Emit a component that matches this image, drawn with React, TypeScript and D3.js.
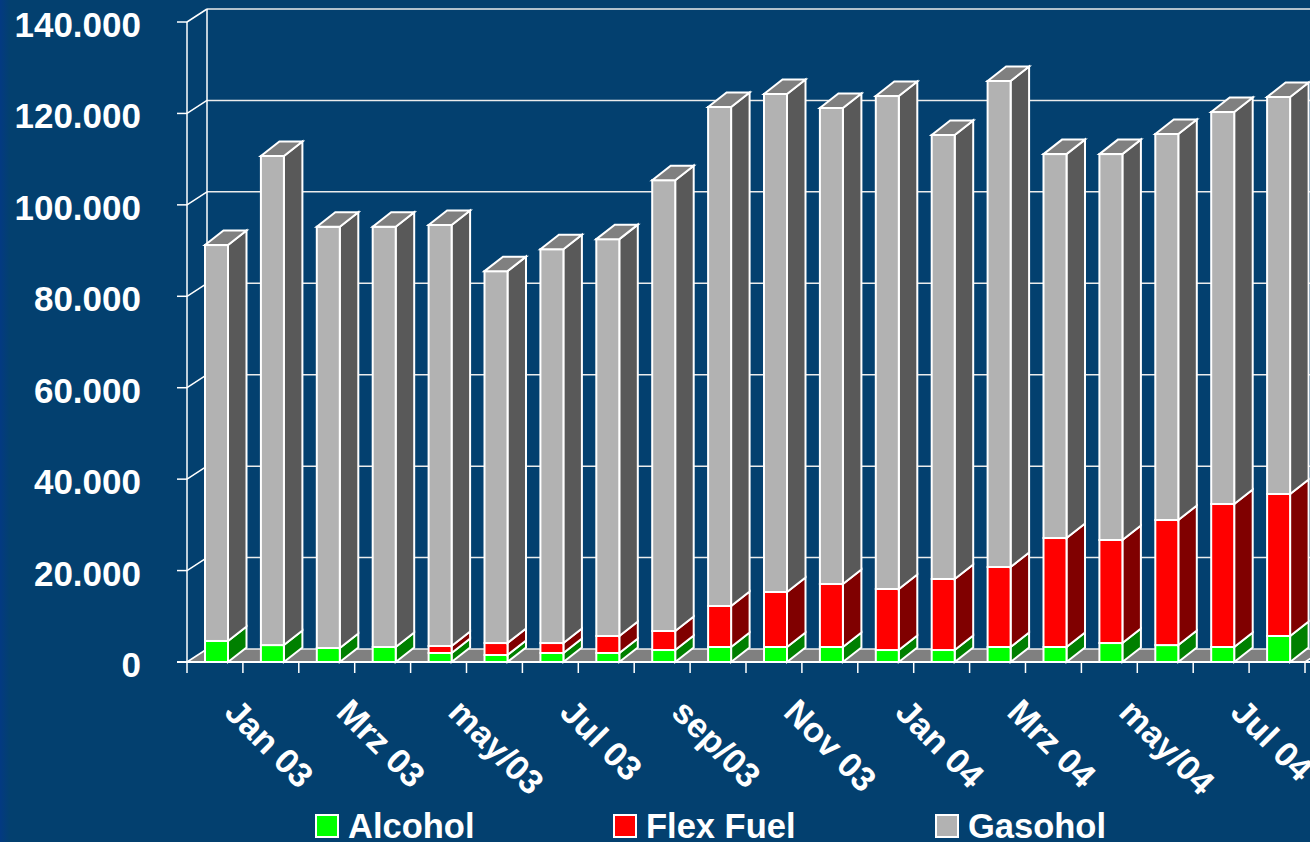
import * as d3 from "d3"
import { useEffect, useRef } from "react"

const categories = [
  "Jan 03", "Fev 03", "Mrz 03", "Abr 03", "may/03", "Jun 03", "Jul 03", "Ago 03", "sep/03", "Out 03",
  "Nov 03", "Dez 03", "Jan 04", "Fev 04", "Mrz 04", "Abr 04", "may/04", "Jun 04", "Jul 04", "Ago 04"
]
const alcohol = [4600, 3700, 3060, 3280, 1970, 1530, 1970, 1970, 2620, 3280, 3280, 3280, 2620, 2620, 3280, 3280, 4150, 3700, 3280, 5690]
const flexFuel = [0, 0, 0, 0, 1530, 2620, 2180, 3720, 4160, 8970, 12030, 13780, 13350, 15540, 17500, 23840, 22540, 27360, 31280, 31060]
const gasohol = [86600, 107000, 92140, 91920, 92100, 81350, 86150, 86810, 98620, 109150, 108940, 104140, 107830, 97140, 106320, 83980, 84410, 84440, 85740, 86850]
const yTicks = [0, 20000, 40000, 60000, 80000, 100000, 120000, 140000]
const seriesNames = ["Alcohol", "Flex Fuel", "Gasohol"]
const frontColors = ["#00ff00", "#ff0000", "#b2b2b2"]
const sideColors = ["#008000", "#800000", "#595959"]

const WIDTH = 1310
const HEIGHT = 842
const BG = "#03406f"
const FONT = "'Liberation Sans', Arial, sans-serif"

const App = () => {
  const svgRef = useRef<SVGSVGElement | null>(null)

  useEffect(() => {
    if (!svgRef.current) return

    // Clear previous chart
    const svg = d3.select(svgRef.current)
    svg.selectAll("*").remove()

    // Darker blue stripe on the left edge of the slide
    const edge = svg
      .append("defs")
      .append("linearGradient")
      .attr("id", "edge-gradient")
      .attr("x1", "0%")
      .attr("x2", "100%")
    edge.append("stop").attr("offset", "0%").attr("stop-color", "#033a82")
    edge.append("stop").attr("offset", "100%").attr("stop-color", BG)
    svg
      .append("rect")
      .attr("width", 10)
      .attr("height", HEIGHT)
      .attr("fill", "url(#edge-gradient)")

    const rows = categories.map((c, i) => ({
      category: c,
      [seriesNames[0]]: alcohol[i],
      [seriesNames[1]]: flexFuel[i],
      [seriesNames[2]]: gasohol[i]
    }))
    const stacked = d3.stack<any>().keys(seriesNames)(rows)

    const x = d3.scaleBand().domain(categories).range([187, 1305])
    const y = d3.scaleLinear().domain([0, 140000]).range([662, 22])

    const wallDx = 20
    const wallDy = -13
    const barDx = 18.5
    const barDy = -14.5
    const barInset = 18
    const barWidth = 23
    const x0 = x.range()[0]
    const x1 = x.range()[1]

    // Floor
    svg
      .append("polygon")
      .attr("points", `${x0},${y(0)} ${x0 + wallDx},${y(0) + wallDy} ${x1 + wallDx},${y(0) + wallDy} ${x1},${y(0)}`)
      .attr("fill", "#808080")

    // Back wall gridlines and the matching strokes on the side wall
    yTicks.forEach(t => {
      svg
        .append("line")
        .attr("x1", x0 + wallDx)
        .attr("x2", WIDTH + 5)
        .attr("y1", y(t) + wallDy)
        .attr("y2", y(t) + wallDy)
        .attr("stroke", "#ececec")
        .attr("stroke-width", 1.5)
      svg
        .append("line")
        .attr("x1", x0 - 10)
        .attr("x2", x0)
        .attr("y1", y(t))
        .attr("y2", y(t))
        .attr("stroke", "#ffffff")
        .attr("stroke-width", 1.5)
      svg
        .append("line")
        .attr("x1", x0)
        .attr("x2", x0 + wallDx)
        .attr("y1", y(t))
        .attr("y2", y(t) + wallDy)
        .attr("stroke", "#ffffff")
        .attr("stroke-width", 1.5)
      svg
        .append("text")
        .attr("x", 141)
        .attr("y", y(t) + 15)
        .attr("text-anchor", "end")
        .attr("fill", "#ffffff")
        .style("font-family", FONT)
        .style("font-weight", "bold")
        .style("font-size", "35px")
        .text(t === 0 ? "0" : d3.format(",")(t).replace(",", "."))
    })

    // Axis lines
    const axisLine = (ax: number, ay: number, bx: number, by: number) =>
      svg
        .append("line")
        .attr("x1", ax)
        .attr("y1", ay)
        .attr("x2", bx)
        .attr("y2", by)
        .attr("stroke", "#ffffff")
        .attr("stroke-width", 1.5)
    axisLine(x0, y(0), x0, y(140000))
    axisLine(x0 + wallDx, y(0) + wallDy, x0 + wallDx, y(140000) + wallDy)

    // Bars, left to right, bottom segment first
    categories.forEach((c, i) => {
      const bx = (x(c) ?? 0) + barInset
      stacked.forEach((layer, s) => {
        const [v0, v1] = layer[i]
        if (v1 - v0 <= 0) return
        const yTop = y(v1)
        const yBottom = y(v0)
        const g = svg.append("g").attr("stroke", "#ffffff").attr("stroke-width", 2)
        g.append("polygon")
          .attr(
            "points",
            `${bx + barWidth},${yBottom} ${bx + barWidth + barDx},${yBottom + barDy} ${bx + barWidth + barDx},${yTop + barDy} ${bx + barWidth},${yTop}`
          )
          .attr("fill", sideColors[s])
        g.append("rect")
          .attr("x", bx)
          .attr("y", yTop)
          .attr("width", barWidth)
          .attr("height", yBottom - yTop)
          .attr("fill", frontColors[s])
        if (s === stacked.length - 1) {
          g.append("polygon")
            .attr(
              "points",
              `${bx},${yTop} ${bx + barDx},${yTop + barDy} ${bx + barWidth + barDx},${yTop + barDy} ${bx + barWidth},${yTop}`
            )
            .attr("fill", "#808080")
        }
      })
    })

    // Front floor edge and category ticks
    axisLine(x0 - 10, y(0), WIDTH + 5, y(0)).attr("stroke-width", 2)
    categories.forEach(c => {
      const tx = x(c) ?? 0
      axisLine(tx, y(0), tx, y(0) + 11)
    })
    axisLine(x1, y(0), x1, y(0) + 11)
    axisLine(x1, y(0), x1 + wallDx, y(0) + wallDy)

    // Every second category is labelled
    categories.forEach((c, i) => {
      if (i % 2 !== 0) return
      const tx = (x(c) ?? 0) + x.bandwidth()
      svg
        .append("text")
        .attr("transform", `translate(${tx - 20},${y(0) + 52}) rotate(45)`)
        .attr("fill", "#ffffff")
        .style("font-family", FONT)
        .style("font-weight", "bold")
        .style("font-size", "34.5px")
        .text(c)
    })

    // Legend
    const legendX = [316, 614, 936]
    seriesNames.forEach((name, i) => {
      svg
        .append("rect")
        .attr("x", legendX[i])
        .attr("y", 815)
        .attr("width", 22)
        .attr("height", 22)
        .attr("fill", frontColors[i])
        .attr("stroke", "#ffffff")
        .attr("stroke-width", 2)
      svg
        .append("text")
        .attr("x", legendX[i] + 32)
        .attr("y", 838)
        .attr("fill", "#ffffff")
        .style("font-family", FONT)
        .style("font-weight", "bold")
        .style("font-size", "34.5px")
        .text(name)
    })
  }, [])

  return (
    <svg
      ref={svgRef}
      width={WIDTH}
      height={HEIGHT}
      style={{ position: "fixed", left: 0, top: 0, background: BG }}
    />
  )
}

export default App
